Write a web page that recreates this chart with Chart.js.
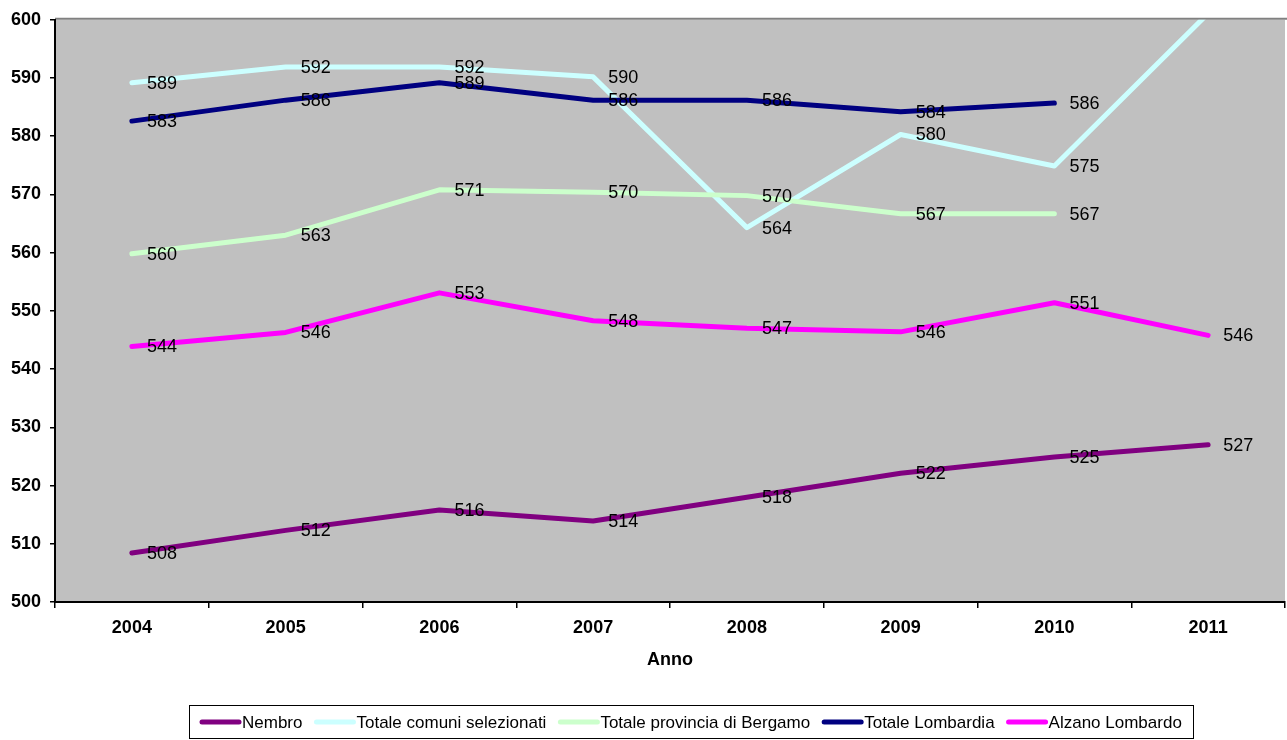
<!DOCTYPE html>
<html>
<head>
<meta charset="utf-8">
<script src="https://cdn.jsdelivr.net/npm/chart.js@4.4.1/dist/chart.umd.min.js"></script>
<style>
  html, body { margin: 0; padding: 0; background: #fff; }
  #wrap { width: 1287px; height: 740px; position: relative; }
</style>
</head>
<body>
<div id="wrap"><canvas id="chart"></canvas></div>
<script>
// ========== DATI ==========
const anni = ['2004', '2005', '2006', '2007', '2008', '2009', '2010', '2011'];
const nembro = [508.4, 512.3, 515.8, 513.9, 518.0, 522.1, 524.9, 527.0];
const totaleComuni = [589.2, 591.9, 591.9, 590.2, 564.3, 580.3, 574.9, 601.1];
const totaleProvincia = [559.8, 563.0, 570.8, 570.4, 569.8, 566.7, 566.7, null];
const totaleLombardia = [582.6, 586.2, 589.2, 586.2, 586.2, 584.2, 585.7, null];
const alzano = [543.9, 546.3, 553.1, 548.3, 547.0, 546.4, 551.4, 545.8];

const yMin = 500;
const yMax = 600;
const yStep = 10;

const FONT = "'Liberation Sans', Arial, sans-serif";

// ========== PLUGINS ==========
// sfondo grigio dell'area del grafico
const plotBackground = {
    id: 'plotBackground',
    beforeDraw(chart) {
        const { ctx, chartArea: a } = chart;
        ctx.save();
        ctx.fillStyle = '#C0C0C0';
        ctx.fillRect(a.left, a.top, a.right - a.left, a.bottom - a.top);
        ctx.strokeStyle = '#808080';
        ctx.lineWidth = 2;
        ctx.beginPath();
        ctx.moveTo(a.left, a.top - 1);
        ctx.lineTo(chart.width, a.top - 1);
        ctx.stroke();
        ctx.restore();
    }
};

// etichette dei valori a destra dei punti
const valueLabels = {
    id: 'valueLabels',
    afterDatasetsDraw(chart) {
        const { ctx } = chart;
        ctx.save();
        ctx.font = '18px ' + FONT;
        ctx.fillStyle = '#000';
        ctx.textAlign = 'left';
        ctx.textBaseline = 'middle';
        chart.data.datasets.forEach((ds, i) => {
            const meta = chart.getDatasetMeta(i);
            meta.data.forEach((pt, j) => {
                const v = ds.data[j];
                if (v === null || v > yMax || v < yMin) return;
                ctx.fillText(String(Math.round(v)), pt.x + 15, pt.y + 1);
            });
        });
        ctx.restore();
    }
};

// legenda con riquadro in basso
const boxLegend = {
    id: 'boxLegend',
    afterDraw(chart) {
        const { ctx } = chart;
        const boxX = 189.5, boxY = 705.5, boxW = 1004, boxH = 33;
        const cy = boxY + boxH / 2;
        ctx.save();
        ctx.fillStyle = '#fff';
        ctx.fillRect(boxX, boxY, boxW, boxH);
        ctx.strokeStyle = '#000';
        ctx.lineWidth = 1;
        ctx.strokeRect(boxX, boxY, boxW, boxH);
        ctx.font = '17px ' + FONT;
        ctx.textBaseline = 'middle';
        ctx.textAlign = 'left';
        let x = 200;
        chart.data.datasets.forEach(ds => {
            ctx.strokeStyle = ds.borderColor;
            ctx.lineWidth = 5;
            ctx.lineCap = 'round';
            ctx.beginPath();
            ctx.moveTo(x + 2, cy);
            ctx.lineTo(x + 39, cy);
            ctx.stroke();
            ctx.fillStyle = '#000';
            ctx.fillText(ds.label, x + 42, cy + 1);
            x += 42 + ctx.measureText(ds.label).width + 12;
        });
        ctx.restore();
    }
};

// ========== GRAFICO ==========
function serie(label, data, color, order) {
    return {
        label: label,
        data: data,
        borderColor: color,
        backgroundColor: color,
        borderWidth: 5,
        tension: 0,
        pointRadius: 0,
        pointHoverRadius: 0,
        borderCapStyle: 'round',
        borderJoinStyle: 'round',
        spanGaps: false,
        fill: false,
        order: order
    };
}

new Chart(document.getElementById('chart'), {
    type: 'line',
    data: {
        labels: anni,
        datasets: [
            serie('Nembro', nembro, '#800080', 5),
            serie('Totale comuni selezionati', totaleComuni, '#CCFFFF', 4),
            serie('Totale provincia di Bergamo', totaleProvincia, '#CCFFCC', 3),
            serie('Totale Lombardia', totaleLombardia, '#000080', 2),
            serie('Alzano Lombardo', alzano, '#FF00FF', 1)
        ]
    },
    options: {
        responsive: true,
        maintainAspectRatio: false,
        animation: false,
        devicePixelRatio: 1,
        layout: { padding: { top: 17, right: 2, bottom: 68, left: 0 } },
        plugins: {
            legend: { display: false },
            tooltip: { enabled: false }
        },
        scales: {
            x: {
                type: 'category',
                offset: true,
                grid: {
                    offset: true,
                    drawOnChartArea: false,
                    drawTicks: true,
                    tickLength: 6,
                    color: '#000',
                    lineWidth: 1.5
                },
                border: { color: '#000', width: 2 },
                ticks: {
                    color: '#000',
                    font: { family: FONT, size: 18, weight: 'bold' },
                    padding: 9,
                    maxRotation: 0
                },
                title: {
                    display: true,
                    text: 'Anno',
                    color: '#000',
                    font: { family: FONT, size: 18, weight: 'bold' },
                    padding: { top: 4, bottom: 1 }
                },
                afterFit(scale) { scale.height = 70; }
            },
            y: {
                min: yMin,
                max: yMax,
                grid: {
                    drawOnChartArea: false,
                    drawTicks: true,
                    tickLength: 5,
                    color: '#000',
                    lineWidth: 1.5
                },
                border: { color: '#000', width: 2 },
                ticks: {
                    stepSize: yStep,
                    color: '#000',
                    font: { family: FONT, size: 18, weight: 'bold' },
                    padding: 9
                },
                afterFit(scale) { scale.width = 55; }
            }
        }
    },
    plugins: [plotBackground, valueLabels, boxLegend]
});
</script>
</body>
</html>
